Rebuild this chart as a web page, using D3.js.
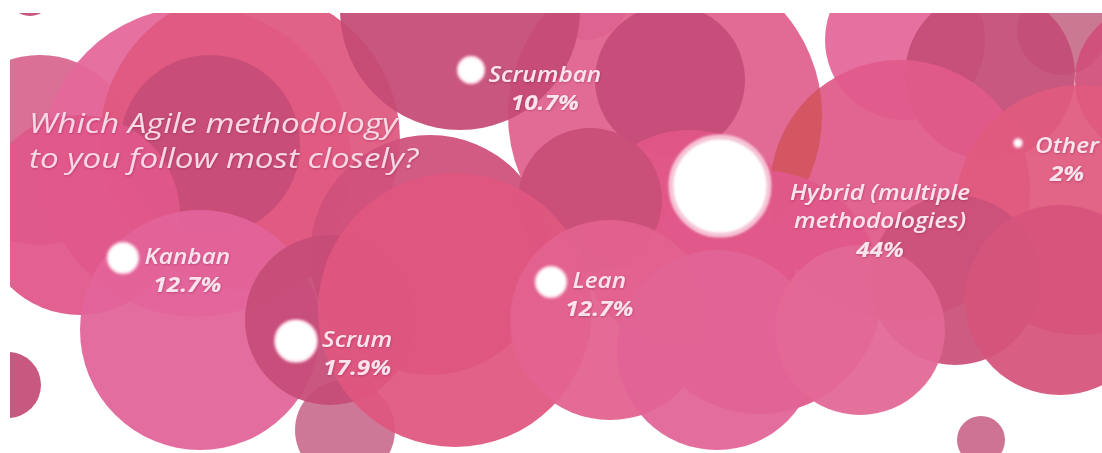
<!DOCTYPE html>
<html><head><meta charset="utf-8">
<script src="https://cdn.jsdelivr.net/npm/d3@7"></script>
<style>html,body{margin:0;padding:0;background:#fff;overflow:hidden}</style>
</head><body>
<svg id="chart" width="1102" height="453"></svg>
<script>
// ---- data ----
const categories = ["Scrumban", "Kanban", "Lean", "Scrum", "Hybrid (multiple methodologies)", "Other"];
const values = [10.7, 12.7, 12.7, 17.9, 44, 2];
const valueLabels = ["10.7%", "12.7%", "12.7%", "17.9%", "44%", "2%"];
const nameLines = [["Scrumban"], ["Kanban"], ["Lean"], ["Scrum"], ["Hybrid (multiple", "methodologies)"], ["Other"]];
const titleLines = ["Which Agile methodology", "to you follow most closely?"];

// ---- layout (marker anchors and label offsets) ----
const anchorX = [471, 123, 551, 296, 720, 1018];
const anchorY = [70, 258, 282, 341, 186, 143];
const labelGap = [4, 6, 6, 5, 21, 13];
const labelDy = [12, 6, 6, 6, 14, 10];

// decorative background bubbles: cx, cy, r, colour
const decor = [
  [40, 150, 95, "#d8678f"],
  [196, 162, 155, "#e4689a"],
  [250, 140, 150, "#df5880"],
  [585, -5, 45, "#c8708c"],
  [665, 115, 157, "#e0628f"],
  [460, 10, 120, "#c54b76"],
  [670, 80, 75, "#c54c78"],
  [210, 145, 90, "#c64d78"],
  [905, 40, 80, "#e4679a"],
  [1062, 30, 45, "#c8708c"],
  [990, 75, 85, "#c44e77"],
  [1150, 80, 75, "#d0507a"],
  [900, 190, 130, "#e05a8a"],
  [1080, 210, 125, "#e05a80"],
  [430, 255, 120, "#cf517c"],
  [690, 240, 110, "#e05787"],
  [590, 200, 72, "#c84f78"],
  [760, 292, 122, "#e0588a"],
  [80, 215, 100, "#e0578a"],
  [955, 280, 85, "#cb527a"],
  [1060, 300, 95, "#d6547b"],
  [345, 430, 50, "#cb7090"],
  [200, 330, 120, "#e2649a"],
  [330, 320, 85, "#c64c78"],
  [455, 310, 137, "#df5780"],
  [610, 320, 100, "#e2628f"],
  [717, 350, 100, "#e16496"],
  [860, 330, 85, "#e26895"],
  [981, 440, 24, "#cc6a8d"],
  [8, 385, 33, "#c44e77"],
  [30, -6, 22, "#c44e77"]
];
// lens (a circle clipped to another decor circle): cx, cy, r, colour, index of clip circle
const lenses = [
  [900, 190, 130, "#d2565f", 4]
];
// lens is drawn right after this decor index
const lensAfter = 16;

const W = 1102, H = 453;
const svg = d3.select("#chart");
const defs = svg.append("defs");

const sh = defs.append("filter").attr("id", "ts").attr("x", "-10%").attr("y", "-30%").attr("width", "120%").attr("height", "160%");
sh.append("feDropShadow").attr("dx", 0.5).attr("dy", 0.8).attr("stdDeviation", 1).attr("flood-color", "#6a1030").attr("flood-opacity", 0.35);
const gl = defs.append("filter").attr("id", "glow").attr("x", "-50%").attr("y", "-50%").attr("width", "200%").attr("height", "200%");
gl.append("feGaussianBlur").attr("stdDeviation", 0.9);

defs.append("clipPath").attr("id", "area").append("rect")
  .attr("x", 10).attr("y", 13).attr("width", W - 10).attr("height", H - 13);
lenses.forEach((l, i) => {
  const c = decor[l[4]];
  defs.append("clipPath").attr("id", "lens" + i).append("circle")
    .attr("cx", c[0]).attr("cy", c[1]).attr("r", c[2]);
});

const g = svg.append("g").attr("clip-path", "url(#area)");
const bg = g.append("g");

decor.forEach((d, i) => {
  bg.append("circle").datum(d)
    .attr("cx", d[0]).attr("cy", d[1]).attr("r", d[2])
    .attr("fill", d[3]).attr("fill-opacity", 0.94);
  if (i === lensAfter) {
    lenses.forEach((l, j) => {
      bg.append("circle").datum(l)
        .attr("clip-path", "url(#lens" + j + ")")
        .attr("cx", l[0]).attr("cy", l[1]).attr("r", l[2])
        .attr("fill", l[3]).attr("fill-opacity", 0.92);
    });
  }
});

// stretch a text element horizontally by factor k
function stretch(sel, k) {
  sel.each(function () {
    const L = this.getComputedTextLength();
    d3.select(this).attr("textLength", L * k).attr("lengthAdjust", "spacingAndGlyphs");
  });
}

// ---- title ----
g.selectAll("text.title").data(titleLines).join("text")
  .attr("class", "title")
  .attr("font-family", "'Open Sans', sans-serif")
  .attr("font-style", "italic").attr("font-weight", 400)
  .attr("font-size", 27).attr("fill", "#f9d8e6")
  .attr("filter", "url(#ts)")
  .attr("x", 29).attr("y", (d, i) => 133 + i * 35)
  .text(d => d)
  .call(stretch, 1.23);

// ---- data markers ----
const r = d3.scaleLinear().domain([0, 44]).range([2, 49]);
const data = categories.map((c, i) => ({
  name: c, value: values[i], label: valueLabels[i], lines: nameLines[i],
  x: anchorX[i], y: anchorY[i], gap: labelGap[i], dy: labelDy[i]
}));

const K = 1.16;
const mk = g.selectAll("g.mk").data(data).join("g").attr("class", "mk");
mk.append("circle")
  .attr("cx", d => d.x).attr("cy", d => d.y).attr("r", d => r(d.value))
  .attr("fill", "#fff")
  .attr("stroke", "#f6c3d6")
  .attr("stroke-width", d => d.value > 30 ? 5 : 2)
  .attr("filter", "url(#glow)");

mk.each(function (d) {
  const grp = d3.select(this);
  const x0 = d.x + r(d.value) + d.gap;
  const lines = grp.selectAll("text.nm").data(d.lines).join("text")
    .attr("class", "nm")
    .attr("font-family", "'Open Sans', sans-serif")
    .attr("font-style", "italic").attr("font-weight", 600)
    .attr("font-size", 21).attr("fill", "#fbe3ee")
    .attr("filter", "url(#ts)")
    .attr("x", x0).attr("y", (s, i) => d.y + d.dy + i * 28).text(s => s);
  let w = 0;
  lines.each(function () { w = Math.max(w, this.getComputedTextLength() * K); });
  lines.call(stretch, K);
  const cx = x0 + w / 2;
  if (d.lines.length > 1) {
    lines.attr("text-anchor", "middle").attr("x", cx);
  }
  grp.append("text")
    .attr("font-family", "'Open Sans', sans-serif")
    .attr("font-style", "italic").attr("font-weight", 700)
    .attr("font-size", 21).attr("fill", "#fbe3ee")
    .attr("text-anchor", "middle")
    .attr("filter", "url(#ts)")
    .attr("x", cx).attr("y", d.y + d.dy + d.lines.length * 28 + (d.lines.length > 1 ? 1 : 0))
    .text(d.label)
    .call(stretch, K);
});
</script>
</body></html>
